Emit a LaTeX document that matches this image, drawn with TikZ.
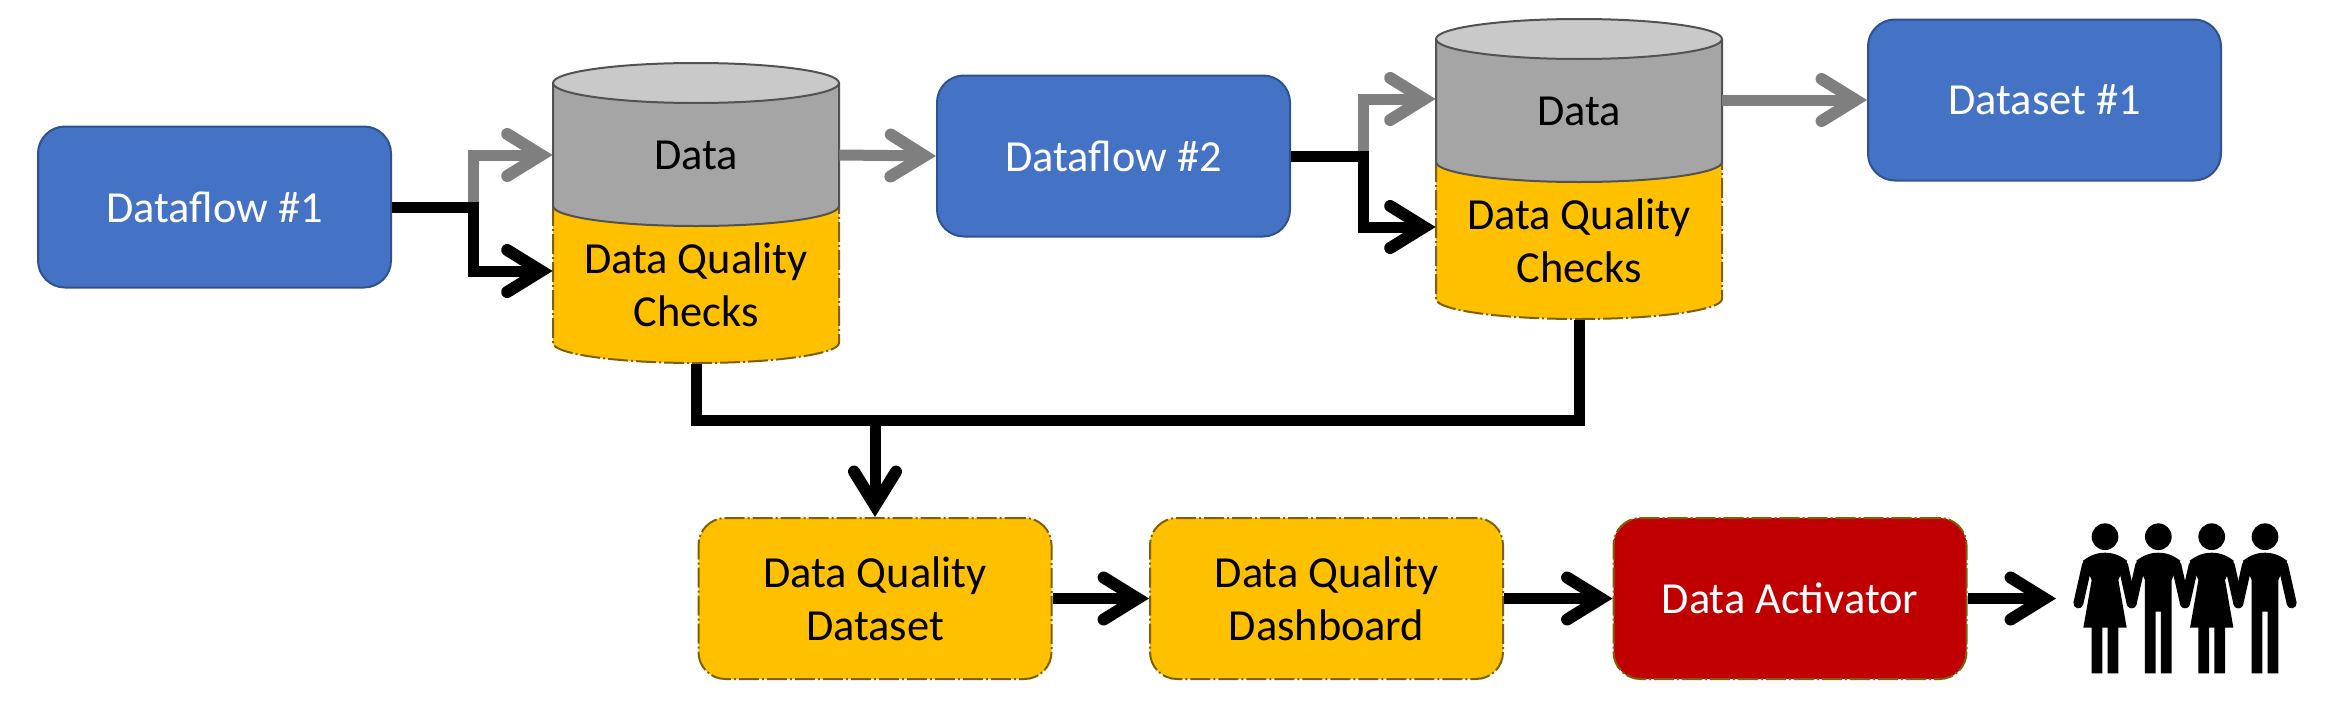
\documentclass[tikz,border=0pt]{standalone}
\usepackage{fontspec}
\setmainfont{Carlito}
\usetikzlibrary{arrows.meta}

\definecolor{flowblue}{HTML}{4472C4}
\definecolor{flowedge}{HTML}{2F528F}
\definecolor{checkfill}{HTML}{FFC000}
\definecolor{checkedge}{HTML}{7F6000}
\definecolor{drumgray}{HTML}{A5A5A5}
\definecolor{drumtop}{HTML}{C9C9C9}
\definecolor{drumedge}{HTML}{525252}
\definecolor{alertred}{HTML}{C00000}
\definecolor{pipegray}{HTML}{7F7F7F}

\tikzset{
  label font/.style={font=\fontsize{22.2}{26.5}\selectfont,align=center},
  flowbox/.style={label font,draw=flowedge,line width=1pt,fill=flowblue,text=white,
    rounded corners=13.5pt,minimum width=176.5pt,minimum height=80.5pt,inner sep=0pt},
  dashline/.style={line width=1pt,dash pattern=on 10pt off 1.5pt on 1pt off 1.5pt},
  checkbox/.style={flowbox,dashline,draw=checkedge,fill=checkfill,text=black},
  alertbox/.style={checkbox,fill=alertred,text=white},
  drumtext/.style={label font,minimum width=143pt,inner sep=0pt},
  pipe/.style={line width=5.5pt,-{Straight Barb[length=17pt,width=21pt,line width=6pt,line cap=round,line join=miter]}},
  plainpipe/.style={line width=5.5pt,line join=miter},
  figure unit/.style={x=0.1667pt,y=-0.1667pt},
  woman/.pic={
    \fill (0,0) circle (40);
    \fill (0,48) .. controls (-30,48) and (-50,60) .. (-66,72) -- (-40,130) -- (-65,273) -- (65,273)
      -- (40,130) -- (66,72) .. controls (50,60) and (30,48) .. (0,48) -- cycle;
    \fill (-40,270) rectangle (-8,410) (8,270) rectangle (40,410);
    \draw[line width=5pt,line cap=round] (-54,85) -- (-80,200) (54,85) -- (80,200);
  },
  man/.pic={
    \fill (0,0) circle (40);
    \fill (0,48) .. controls (-30,48) and (-50,60) .. (-66,72) -- (-40,130) -- (-40,410) -- (-8,410)
      -- (-8,225) -- (8,225) -- (8,410) -- (40,410) -- (40,130) -- (66,72)
      .. controls (50,60) and (30,48) .. (0,48) -- cycle;
    \draw[line width=5pt,line cap=round] (-54,85) -- (-80,200) (54,85) -- (80,200);
  }
}

\begin{document}
\begin{tikzpicture}[x=0.5pt,y=-0.5pt]
\useasboundingbox (0,0) rectangle (2328,712);

% Blue flow boxes
\node[flowbox] (dataflowA) at (214.5,207) {Dataflow \#1};
\node[flowbox] (dataflowB) at (1113.5,156) {Dataflow \#2};
\node[flowbox] (datasetA) at (2044.5,100) {Dataset \#1};

% Storage drums, lower part first
\foreach \cx/\cy/\nm in {696/83/A,1579/39/B} {
  \fill[checkfill] (\cx-143,\cy+123) -- (\cx-143,\cy+260) arc[start angle=180,end angle=360,x radius=143,y radius=-20]
    -- (\cx+143,\cy+123) -- cycle;
  \draw[checkedge,dashline] (\cx-143,\cy+123) -- (\cx-143,\cy+260) arc[start angle=180,end angle=360,x radius=143,y radius=-20]
    -- (\cx+143,\cy+123);
  \draw[drumedge,line width=1pt,fill=drumgray] (\cx-143,\cy) -- (\cx-143,\cy+123)
    arc[start angle=180,end angle=360,x radius=143,y radius=-20] -- (\cx+143,\cy) -- cycle;
  \draw[drumedge,line width=1pt,fill=drumtop] (\cx,\cy) ellipse[x radius=143,y radius=20];
  \node[drumtext] (data\nm) at (\cx,\cy+72) {Data};
  \node[drumtext,minimum height=78.5pt] (checks\nm) at (\cx,\cy+202) {Data Quality\\Checks};
}

% Lower row
\node[checkbox] (qualityset) at (875,598.5) {Data Quality\\Dataset};
\node[checkbox] (qualityboard) at (1326.5,598.5) {Data Quality\\Dashboard};
\node[alertbox] (activator) at (1790,598.5) {Data Activator};

% Group of people
\coordinate (people) at (2056,598.5);
\path (2105,536.7) pic[figure unit] {woman};
\path (2158.3,536.7) pic[figure unit] {man};
\path (2211.7,536.7) pic[figure unit] {woman};
\path (2265,536.7) pic[figure unit] {man};

% Branches into the drums, gray under black
\coordinate (splitA) at (473,207);
\coordinate (splitB) at (1363,156);
\draw[pipe,pipegray] (splitA) |- (dataA.west);
\draw[pipe,pipegray] (splitB) |- ([yshift=6pt]dataB.west);
\draw[pipe] (dataflowA.east) -- (splitA) |- ([yshift=7pt]checksA.west);
\draw[pipe] (dataflowB.east) -- (splitB) |- ([yshift=7pt]checksB.west);

% Gray outputs
\draw[pipe,pipegray] (dataA.east) -- (dataflowB.west);
\draw[pipe,pipegray] (dataB.east |- datasetA.west) -- (datasetA.west);

% Quality results merge into one dataset
\coordinate (merge) at (875,420);
\draw[plainpipe] (checksA.south) |- (merge) -| (checksB.south);
\draw[pipe] (merge) -- (qualityset.north);

% Lower chain
\draw[pipe] (qualityset.east) -- (qualityboard.west);
\draw[pipe] (qualityboard.east) -- (activator.west);
\draw[pipe] (activator.east) -- (people);
\end{tikzpicture}
\end{document}
